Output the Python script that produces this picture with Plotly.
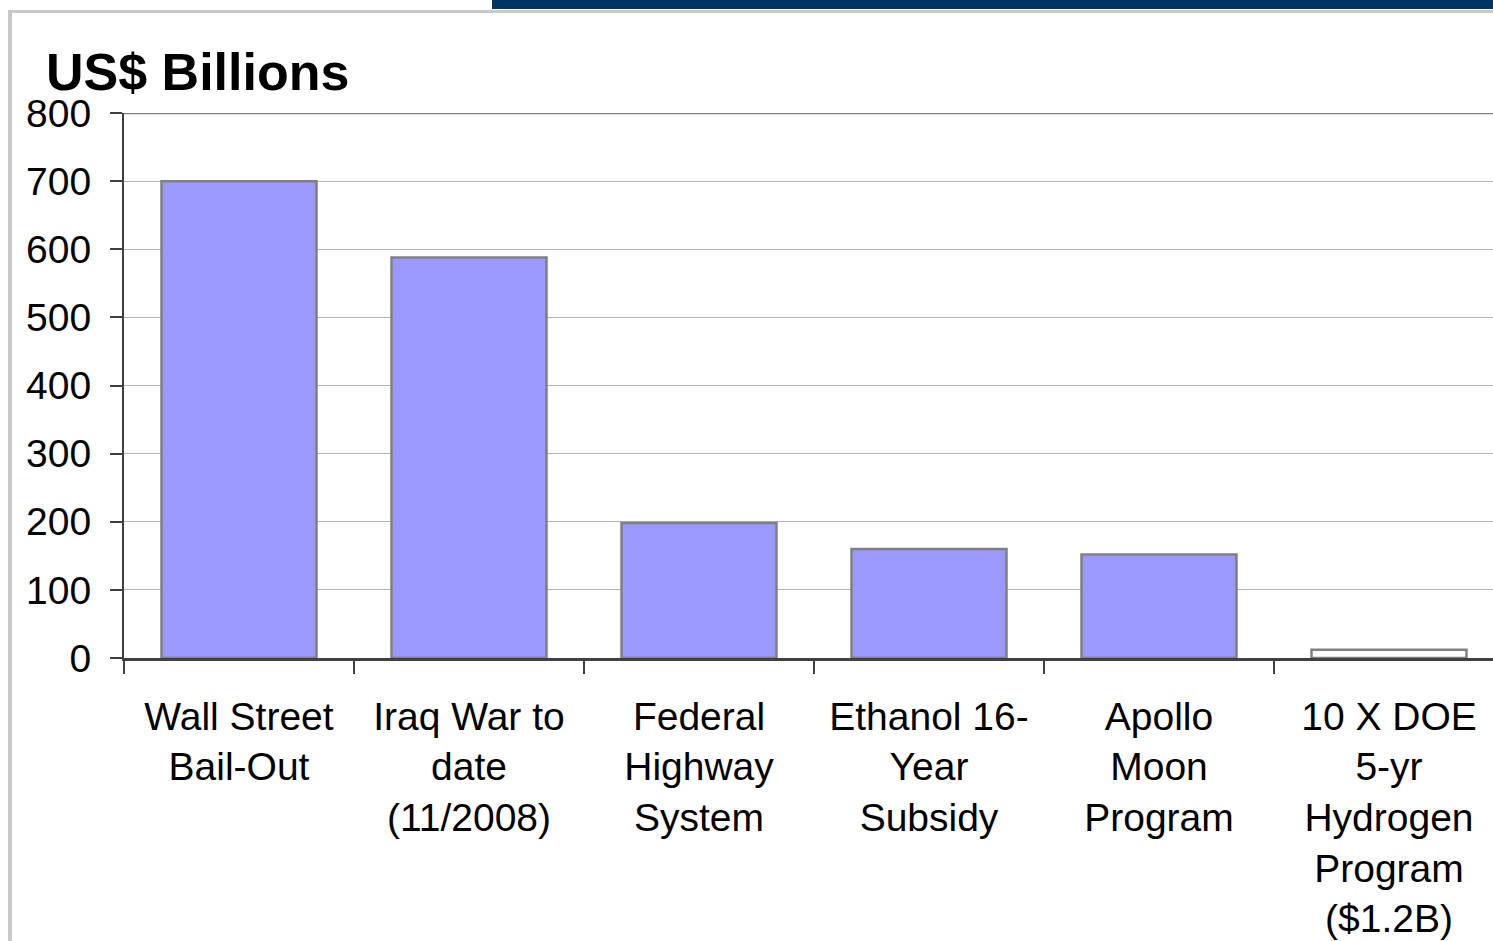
import plotly.graph_objects as go

categories = [
    "Wall Street<br>Bail-Out",
    "Iraq War to<br>date<br>(11/2008)",
    "Federal<br>Highway<br>System",
    "Ethanol 16-<br>Year<br>Subsidy",
    "Apollo<br>Moon<br>Program",
    "10 X DOE<br>5-yr<br>Hydrogen<br>Program<br>($1.2B)",
]
values = [700, 588, 198, 160, 152, 12]
bar_colors = ["#9999FF", "#9999FF", "#9999FF", "#9999FF", "#9999FF", "#FFFFFF"]
y_ticks = [0, 100, 200, 300, 400, 500, 600, 700, 800]

W, H = 1493, 941
L, R, T, B = 124, 0, 113, 283
PW = W - L - R
PH = H - T - B

def px(x):
    return (x - L) / PW

def py(y):
    return (H - B - y) / PH

FONT = "Liberation Sans, Arial, sans-serif"

fig = go.Figure(
    go.Bar(
        x=categories,
        y=values,
        marker=dict(color=bar_colors, line=dict(color="#808080", width=2.5)),
        hoverinfo="skip",
    )
)

fig.update_layout(
    width=W,
    height=H,
    margin=dict(l=L, r=R, t=T, b=B, pad=0, autoexpand=False),
    paper_bgcolor="white",
    plot_bgcolor="white",
    bargap=0.326,
    showlegend=False,
    font=dict(family=FONT, color="black"),
)

fig.update_xaxes(
    type="category",
    range=[-0.5, -0.5 + PW / 230.0],
    automargin=False,
    showline=True,
    linecolor="#404040",
    linewidth=2.5,
    ticks="outside",
    tickson="boundaries",
    ticklen=13,
    tickwidth=1.5,
    tickcolor="#404040",
    tickfont=dict(size=39, family=FONT, color="black"),
    ticklabelstandoff=22,
    showgrid=False,
    fixedrange=True,
)

fig.update_yaxes(
    range=[0, 800],
    tickvals=y_ticks,
    automargin=False,
    showline=True,
    linecolor="#404040",
    linewidth=2,
    ticks="outside",
    ticklen=12,
    tickwidth=1.5,
    tickcolor="#404040",
    tickfont=dict(size=39, family=FONT, color="black"),
    ticklabelstandoff=11,
    showgrid=True,
    gridcolor="#b4b4b4",
    gridwidth=1,
    zeroline=False,
    fixedrange=True,
)

shapes = [
    # plot-area top border
    dict(type="line", xref="paper", yref="y", x0=0, x1=1, y0=800, y1=800,
         line=dict(color="#808080", width=2.5), layer="above"),
    # navy header bar
    dict(type="rect", xref="paper", yref="paper", x0=px(492), x1=1.0,
         y0=py(9), y1=py(-2), fillcolor="#003366", line=dict(width=0), layer="above"),
    # gray top frame line
    dict(type="rect", xref="paper", yref="paper", x0=px(8), x1=1.0,
         y0=py(13), y1=py(10), fillcolor="#c8c8c8", line=dict(width=0), layer="above"),
    # gray left frame line
    dict(type="rect", xref="paper", yref="paper", x0=px(8), x1=px(12),
         y0=py(945), y1=py(10), fillcolor="#c8c8c8", line=dict(width=0), layer="above"),
]
fig.update_layout(shapes=shapes)

fig.add_annotation(
    text="<b>US$ Billions</b>",
    xref="paper", yref="paper",
    x=px(44), y=py(103),
    xanchor="left", yanchor="bottom",
    showarrow=False,
    font=dict(size=52, family=FONT, color="black"),
)

fig.write_html("out.html", config={"displayModeBar": False})
